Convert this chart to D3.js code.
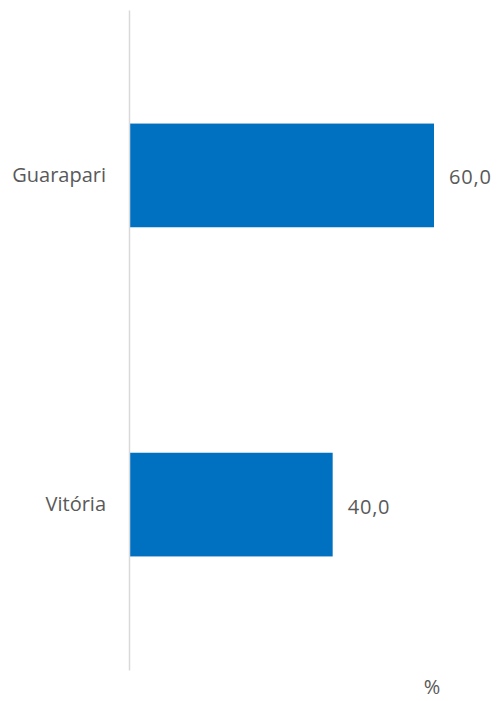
<!DOCTYPE html>
<html>
<head>
<meta charset="utf-8">
<script src="https://cdn.jsdelivr.net/npm/d3@7"></script>
<style>
  body { margin: 0; background: #fff; }
  text { font-family: "Open Sans", sans-serif; fill: #595959; }
</style>
</head>
<body>
<div id="chart"></div>
<script>
// Data
const categories = ["Guarapari", "Vitória"];
const values = [60.0, 40.0];
const unitLabel = "%";

// Dimensions
let dimensions = {
    width: 498,
    height: 701,
    margin: { top: 10, bottom: 31, left: 129, right: 64 }
};
dimensions.ctnrWidth = dimensions.width - dimensions.margin.left - dimensions.margin.right;
dimensions.ctnrHeight = dimensions.height - dimensions.margin.top - dimensions.margin.bottom;

const svg = d3.select("#chart")
    .append("svg")
    .attr("width", dimensions.width)
    .attr("height", dimensions.height);

const ctnr = svg.append("g")
    .attr("transform", `translate(${dimensions.margin.left}, ${dimensions.margin.top})`);

const xScale = d3.scaleLinear()
    .domain([0, 60])
    .range([1, 305]);

const yScale = d3.scaleBand()
    .domain(categories)
    .range([0, dimensions.ctnrHeight])
    .paddingInner(0.685)
    .paddingOuter(0.345);

// Bars
ctnr.selectAll("rect")
    .data(values)
    .join("rect")
    .attr("x", xScale(0))
    .attr("y", (d, i) => yScale(categories[i]))
    .attr("width", (d) => xScale(d) - xScale(0))
    .attr("height", yScale.bandwidth())
    .attr("fill", "#0070C0");

// Value labels
ctnr.selectAll(".value")
    .data(values)
    .join("text")
    .attr("class", "value")
    .attr("x", (d) => xScale(d) + 15)
    .attr("y", (d, i) => yScale(categories[i]) + yScale.bandwidth() / 2 + 2)
    .attr("dy", "0.35em")
    .style("font-size", "20px")
    .style("letter-spacing", "0.8px")
    .text((d) => d3.format(".1f")(d).replace(".", ","));

// Category axis
const yAxis = d3.axisLeft(yScale).tickSize(0).tickPadding(23);
const yAxisGroup = ctnr.append("g").call(yAxis);
yAxisGroup.select(".domain")
    .attr("stroke", "#d9d9d9")
    .attr("stroke-width", 1.5);
yAxisGroup.selectAll("text")
    .style("font-size", "20px")
    .style("font-family", "'Open Sans', sans-serif")
    .attr("fill", "#595959");

// Unit label
svg.append("text")
    .attr("x", 432)
    .attr("y", 694)
    .attr("text-anchor", "middle")
    .style("font-size", "20px")
    .text(unitLabel);
</script>
</body>
</html>
